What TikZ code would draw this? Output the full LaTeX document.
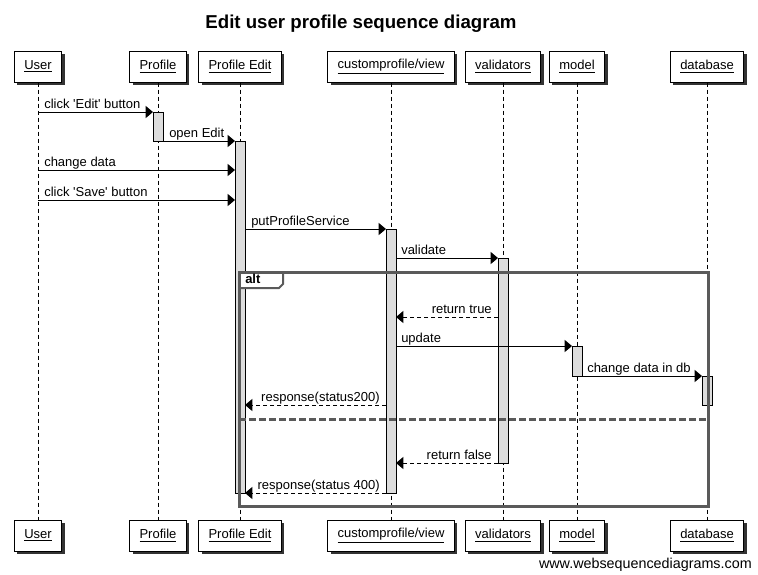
\documentclass[tikz,border=0pt]{standalone}
\usepackage{fontspec}
\setmainfont{Liberation Sans}
\usetikzlibrary{arrows.meta,shadows}
\definecolor{actgray}{HTML}{DDDDDD}
\definecolor{framegray}{HTML}{5A5A5A}
\begin{document}
\begin{tikzpicture}[x=0.75pt,y=-0.75pt,
  every node/.style={font=\fontsize{9.75}{11.5}\selectfont},
  part/.style={draw, fill=white, line width=0.75pt, inner xsep=7.5pt, inner ysep=0pt,
    minimum height=23.25pt,
    drop shadow={shadow xshift=2.25pt, shadow yshift=-2.25pt, fill=black!80, opacity=1}},
  life/.style={line width=0.75pt, dash pattern=on 3pt off 2.25pt},
  act/.style={draw, fill=actgray, line width=0.75pt, minimum width=7.5pt, inner sep=0pt, outer sep=0pt},
  msg/.style={line width=0.75pt, -{Triangle[length=5.5pt,width=9pt]}},
  ret/.style={msg, dash pattern=on 3pt off 2.25pt},
  lbl/.style={inner sep=0pt},
  framecol/.style={line width=2.25pt, draw=framegray},
]
\useasboundingbox[fill=white] (0,0) rectangle (758,575);

% title
\node[font=\bfseries\fontsize{14}{16}\selectfont, anchor=base] (title) at (361,28) {Edit user profile sequence diagram};

% participants top
\node[part] (uT) at (38,66.5) {\underline{User}};
\node[part] (pT) at (158,66.5) {\underline{Profile}};
\node[part] (eT) at (240,66.5) {\underline{Profile Edit}};
\node[part] (cT) at (391,66.5) {\underline{customprofile/view}};
\node[part] (vT) at (503,66.5) {\underline{validators}};
\node[part] (mT) at (577,66.5) {\underline{model}};
\node[part] (dT) at (707,66.5) {\underline{database}};

% participants bottom
\node[part] (uB) at (38,535.5) {\underline{User}};
\node[part] (pB) at (158,535.5) {\underline{Profile}};
\node[part] (eB) at (240,535.5) {\underline{Profile Edit}};
\node[part] (cB) at (391,535.5) {\underline{customprofile/view}};
\node[part] (vB) at (503,535.5) {\underline{validators}};
\node[part] (mB) at (577,535.5) {\underline{model}};
\node[part] (dB) at (707,535.5) {\underline{database}};

% lifelines
\foreach \a/\b in {uT/uB,pT/pB,eT/eB,cT/cB,vT/vB,mT/mB,dT/dB}
  \draw[life] (\a.south) -- (\b.north);

% activations
\node[act, minimum height=21.75pt] (aP) at (158,126.5) {};
\node[act, minimum height=264pt] (aE) at (240,317) {};
\node[act, minimum height=198pt] (aC) at (391,361) {};
\node[act, minimum height=153.75pt] (aV) at (503,360.5) {};
\node[act, minimum height=22.5pt] (aM) at (577,361) {};
\node[act, minimum height=21.75pt] (aD) at (707,390.5) {};

% alt frame
\draw[framecol] (239,272) rectangle (708,506);
\draw[line width=1.5pt, draw=framegray, fill=white] (239,272) -- (283,272) -- (283,284) -- (279,288) -- (239,288) -- cycle;
\draw[framecol] (239,288) -- (239,272) -- (283,272);
\node[lbl, anchor=base west, font=\bfseries\fontsize{9.75}{11.5}\selectfont] (altlbl) at (245,283) {alt};
\draw[framecol, dash pattern=on 5.25pt off 2.25pt] (239,419) -- (708,419);

% messages
\draw[msg] (uT |- aP.north) -- (aP.north west);
\node[lbl, anchor=base west] (l1) at (44,108) {click \textquotesingle Edit\textquotesingle{} button};

\draw[msg] (aP.south east) -- (aE.north west);
\node[lbl, anchor=base west] (l2) at (169,137) {open Edit};

\draw[msg] (uT |- 0,170) -- (aE.west |- 0,170);
\node[lbl, anchor=base west] (l3) at (44,166) {change data};

\draw[msg] (uT |- 0,200) -- (aE.west |- 0,200);
\node[lbl, anchor=base west] (l4) at (44,196) {click \textquotesingle Save\textquotesingle{} button};

\draw[msg] (aE.east |- aC.north) -- (aC.north west);
\node[lbl, anchor=base west] (l5) at (251,225) {putProfileService};

\draw[msg] (aC.east |- aV.north) -- (aV.north west);
\node[lbl, anchor=base west] (l6) at (401,254) {validate};

\draw[ret] (aV.west |- 0,317) -- (aC.east |- 0,317);
\node[lbl, anchor=base east] (l7) at (492,313) {return true};

\draw[msg] (aC.east |- aM.north) -- (aM.north west);
\node[lbl, anchor=base west] (l8) at (401,342) {update};

\draw[msg] (aM.south east) -- (aD.north west);
\node[lbl, anchor=base west] (l9) at (587,372) {change data in db};

\draw[ret] (aC.west |- 0,405) -- (aE.east |- 0,405);
\node[lbl, anchor=base east] (l10) at (380,401) {response(status200)};

\draw[ret] (aV.south west) -- (aC.east |- aV.south);
\node[lbl, anchor=base east] (l11) at (492,459) {return false};

\draw[ret] (aC.south west) -- (aE.south east);
\node[lbl, anchor=base east] (l12) at (380,489) {response(status 400)};

% watermark
\node[lbl, anchor=base east, font=\fontsize{10.75}{12}\selectfont] (wm) at (752,568) {www.websequencediagrams.com};
\end{tikzpicture}
\end{document}
